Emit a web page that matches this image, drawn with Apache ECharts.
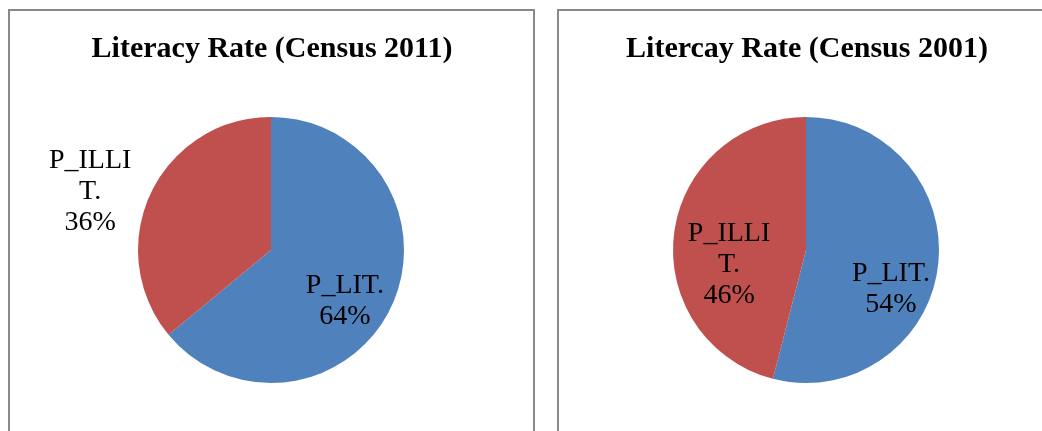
<!DOCTYPE html>
<html>
<head>
<meta charset="utf-8">
<script src="https://cdn.jsdelivr.net/npm/echarts@6/dist/echarts.min.js"></script>
<style>
    html, body { margin: 0; padding: 0; background: #fff; }
    #chart { width: 1042px; height: 431px; }
</style>
</head>
<body>
<div id="chart"></div>
<script>
// literacy shares
var categories = ['P_LIT.', 'P_ILLIT.'];
var labels2011 = ['P_LIT.', 'P_ILLI\nT.'];
var labels2001 = ['P_LIT.', 'P_ILLI\nT.'];
var values2011 = [64, 36];
var values2001 = [54, 46];
var titles = ['Literacy Rate (Census 2011)', 'Litercay Rate (Census 2001)'];

var colors = ['#4F81BD', '#C0504D'];
var serif = '"Liberation Serif", "Times New Roman", serif';

function makeData(values, names) {
    return values.map(function (v, i) {
        return { name: categories[i], value: v, label: { formatter: names[i] + '\n' + v + '%' } };
    });
}

// nudges so labels sit where the original puts them
var shift2011 = [[11, 22], [-118, -29]];
var shift2001 = [[16, 30], [-8, 23]];

function pieSeries(cx, values, names, shifts) {
    return {
        type: 'pie',
        center: [cx, 250],
        radius: [0, 133],
        startAngle: 90,
        clockwise: true,
        silent: true,
        animation: false,
        data: makeData(values, names),
        itemStyle: { borderWidth: 0 },
        label: {
            show: true,
            position: 'inside',
            color: '#000',
            fontFamily: serif,
            fontSize: 28,
            lineHeight: 31,
            align: 'center'
        },
        labelLine: { show: false },
        labelLayout: function (params) {
            var s = shifts[params.dataIndex];
            return { dx: s[0], dy: s[1] };
        }
    };
}

var chart = echarts.init(document.getElementById('chart'));
var option = {
    color: colors,
    title: [{
        text: titles[0],
        left: 267,
        top: 29,
        textAlign: 'center',
        textStyle: { fontFamily: serif, fontWeight: 'bold', fontSize: 30, color: '#000' }
    }, {
        text: titles[1],
        left: 802,
        top: 29,
        textAlign: 'center',
        textStyle: { fontFamily: serif, fontWeight: 'bold', fontSize: 30, color: '#000' }
    }],
    graphic: [{
        type: 'rect',
        shape: { x: 9, y: 10, width: 525, height: 440 },
        style: { fill: 'none', stroke: '#898989', lineWidth: 2 },
        silent: true
    }, {
        type: 'rect',
        shape: { x: 558, y: 10, width: 520, height: 440 },
        style: { fill: 'none', stroke: '#898989', lineWidth: 2 },
        silent: true
    }],
    series: [
        pieSeries(271, values2011, labels2011, shift2011),
        pieSeries(806, values2001, labels2001, shift2001)
    ]
};
chart.setOption(option);

window.onresize = chart.resize;
</script>
</body>
</html>
